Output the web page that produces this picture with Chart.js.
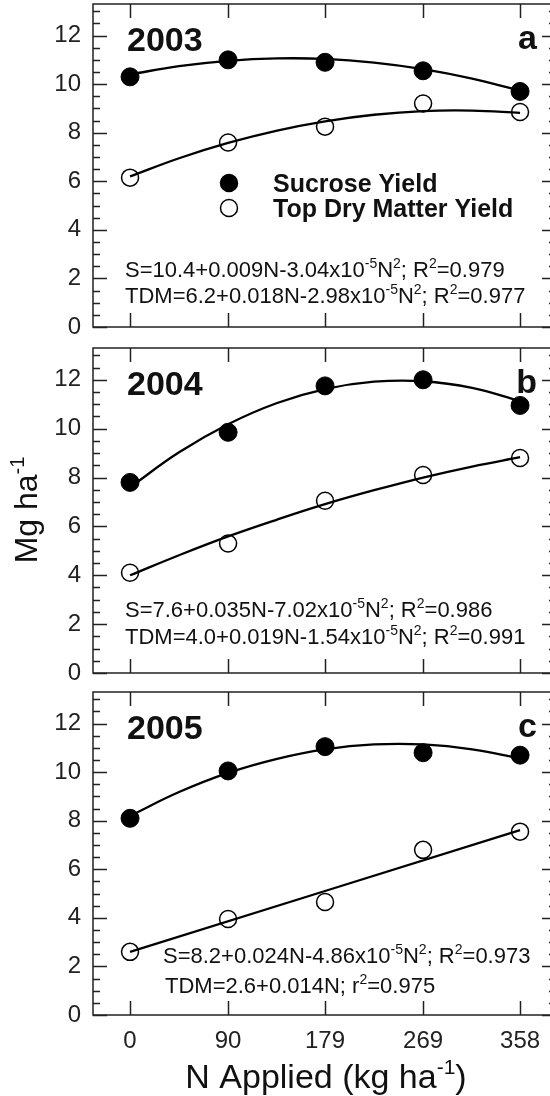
<!DOCTYPE html>
<html>
<head>
<meta charset="utf-8">
<script src="https://cdn.jsdelivr.net/npm/chart.js@4.4.1/dist/chart.umd.min.js"></script>
<style>
  html, body { margin: 0; padding: 0; background: #fff; }
  body { width: 550px; height: 1096px; overflow: hidden; position: relative; }
  .panel { position: absolute; left: 0; width: 560px; }
  .panel canvas { display: block; width: 560px; }
</style>
</head>
<body>
<div class="panel" style="top:0px; height:340px"><canvas id="g2003" width="560" height="340"></canvas></div>
<div class="panel" style="top:340px; height:344px"><canvas id="g2004" width="560" height="344"></canvas></div>
<div class="panel" style="top:684px; height:412px"><canvas id="g2005" width="560" height="412"></canvas></div>
<script>
// datos
const nApplied = [0, 90, 179, 269, 358];
const yTicks = [0, 2, 4, 6, 8, 10, 12];

const sucrose2003 = [10.3, 11.0, 10.9, 10.55, 9.7];
const tdm2003 = [6.15, 7.6, 8.25, 9.2, 8.85];
const sucrose2004 = [7.8, 9.85, 11.75, 12.0, 10.95];
const tdm2004 = [4.1, 5.3, 7.05, 8.1, 8.8];
const sucrose2005 = [8.1, 10.05, 11.05, 10.8, 10.7];
const tdm2005 = [2.6, 3.95, 4.65, 6.8, 7.55];

// curvas ajustadas
const fitN = [0, 45, 90, 135, 179, 224, 269, 314, 358];
const fitS2003 = [10.40, 10.74, 10.96, 11.06, 11.04, 10.89, 10.62, 10.23, 9.73];
const fitT2003 = [6.20, 6.95, 7.58, 8.09, 8.47, 8.74, 8.89, 8.91, 8.82];
const fitS2004 = [7.60, 9.03, 10.18, 11.05, 11.62, 11.92, 11.94, 11.67, 11.13];
const fitT2004 = [4.00, 4.82, 5.59, 6.28, 6.91, 7.48, 8.00, 8.45, 8.83];
const fitS2005 = [8.20, 9.18, 9.97, 10.55, 10.94, 11.14, 11.14, 10.94, 10.56];
const fitN2005T = [0, 358];
const fitT2005 = [2.6, 7.61];

const FONT = '"Liberation Sans", Arial, sans-serif';

function puntos(xs, ys) {
    return xs.map((x, i) => ({ x: x, y: ys[i] }));
}

function richParts(str) {
    const parts = [];
    str.split(/(\{[^}]*\})/).forEach(s => {
        if (!s) return;
        if (s[0] === '{') parts.push([s.slice(1, -1), true]);
        else parts.push([s, false]);
    });
    return parts;
}

function drawRich(ctx, str, x, y, size, weight, align) {
    const parts = richParts(str);
    const supSize = Math.round(size * 0.62);
    const fontOf = sup => `${weight} ${sup ? supSize : size}px ${FONT}`;
    let w = 0;
    parts.forEach(p => { ctx.font = fontOf(p[1]); w += ctx.measureText(p[0]).width; });
    let cx = align === 'center' ? x - w / 2 : (align === 'right' ? x - w : x);
    ctx.textAlign = 'left';
    ctx.textBaseline = 'alphabetic';
    parts.forEach(p => {
        ctx.font = fontOf(p[1]);
        ctx.fillText(p[0], cx, p[1] ? y - size * 0.42 : y);
        cx += ctx.measureText(p[0]).width;
    });
}

function sinPadding(s) {
    s.paddingTop = 0; s.paddingBottom = 0;
    s.paddingLeft = 0; s.paddingRight = 0;
}

// marco, marcas hacia dentro y textos del panel
const decoPlugin = {
    id: 'deco',
    afterDraw(chart, args, o) {
        const ctx = chart.ctx;
        const a = chart.chartArea;
        const xs = chart.scales.x, ys = chart.scales.y;
        ctx.save();
        ctx.strokeStyle = '#222';
        ctx.lineWidth = 1.5;
        ctx.strokeRect(a.left, a.top, a.right - a.left, a.bottom - a.top);
        ctx.beginPath();
        for (let v = 0; v <= ys.max; v += 0.5) {
            const py = Math.round(ys.getPixelForValue(v)) + 0.5;
            const len = v % 2 === 0 ? 14 : 7;
            ctx.moveTo(a.left, py); ctx.lineTo(a.left + len, py);
            ctx.moveTo(a.right, py); ctx.lineTo(a.right - len, py);
        }
        nApplied.forEach(v => {
            const px = Math.round(xs.getPixelForValue(v)) + 0.5;
            ctx.moveTo(px, a.bottom); ctx.lineTo(px, a.bottom - 14);
            ctx.moveTo(px, a.top); ctx.lineTo(px, a.top + 14);
        });
        ctx.stroke();

        ctx.fillStyle = '#111';
        ctx.font = `bold 34px ${FONT}`;
        ctx.textBaseline = 'alphabetic';
        ctx.textAlign = 'left';
        ctx.fillText(o.year, 127, a.top + 47);
        ctx.textAlign = 'right';
        ctx.fillText(o.letter, 537, a.top + 45);

        o.eq.forEach(e => drawRich(ctx, e.text, e.x, a.bottom - e.dy, 22, 'normal', 'left'));

        if (o.legend) {
            o.legend.forEach(l => {
                ctx.beginPath();
                ctx.arc(229, l.y, 8.5, 0, Math.PI * 2);
                ctx.fillStyle = l.fill;
                ctx.fill();
                ctx.lineWidth = 1.5;
                ctx.strokeStyle = '#000';
                ctx.stroke();
                ctx.fillStyle = '#111';
                ctx.font = `bold 25px ${FONT}`;
                ctx.textAlign = 'left';
                ctx.fillText(l.text, 273, l.y + 9);
            });
        }
        if (o.yTitle) {
            ctx.save();
            ctx.translate(37, 170);
            ctx.rotate(-Math.PI / 2);
            ctx.fillStyle = '#111';
            drawRich(ctx, o.yTitle, 0, 0, 32, 'normal', 'center');
            ctx.restore();
        }
        if (o.xTitle) {
            ctx.fillStyle = '#111';
            drawRich(ctx, o.xTitle, 326, 404, 34, 'normal', 'center');
        }
        ctx.restore();
    }
};

function crearPanel(id, cfg) {
    const ctx = document.getElementById(id).getContext('2d');
    return new Chart(ctx, {
        type: 'scatter',
        data: {
            datasets: [
                { type: 'line', data: puntos(fitN, cfg.fitS), borderColor: '#000', borderWidth: 2.3, pointRadius: 0, tension: 0.4, fill: false },
                { type: 'line', data: puntos(cfg.fitTN, cfg.fitT), borderColor: '#000', borderWidth: 2.3, pointRadius: 0, tension: 0.4, fill: false },
                { label: 'Sucrose Yield', data: puntos(nApplied, cfg.sucrose), pointRadius: 9, backgroundColor: '#000', borderColor: '#000', borderWidth: 1 },
                { label: 'Top Dry Matter Yield', data: puntos(nApplied, cfg.tdm), pointRadius: 8.5, backgroundColor: '#fff', borderColor: '#000', borderWidth: 1.5 }
            ]
        },
        options: {
            responsive: false,
            animation: false,
            devicePixelRatio: 1,
            layout: { autoPadding: false, padding: { top: cfg.top, right: 4, left: 0, bottom: 0 } },
            plugins: {
                legend: { display: false },
                tooltip: { enabled: false },
                deco: cfg.deco
            },
            scales: {
                x: {
                    type: 'linear', min: -34, max: 391,
                    afterBuildTicks: s => { s.ticks = nApplied.map(v => ({ value: v })); },
                    afterFit: s => { s.height = cfg.xHeight; sinPadding(s); },
                    grid: { display: false, drawTicks: false, tickLength: 0 },
                    border: { display: false },
                    ticks: { display: cfg.showX, color: '#222', padding: 12, font: { size: 24, family: FONT } }
                },
                y: {
                    min: 0, max: 13.3,
                    afterBuildTicks: s => { s.ticks = yTicks.map(v => ({ value: v })); },
                    afterFit: s => { s.width = 93; sinPadding(s); },
                    grid: { display: false, drawTicks: false, tickLength: 0 },
                    border: { display: false },
                    ticks: { color: '#222', padding: 12, font: { size: 24, family: FONT } }
                }
            }
        },
        plugins: [decoPlugin]
    });
}

crearPanel('g2003', {
    sucrose: sucrose2003, tdm: tdm2003, fitS: fitS2003, fitTN: fitN, fitT: fitT2003,
    top: 4, xHeight: 13, showX: false,
    deco: {
        year: '2003', letter: 'a',
        eq: [
            { text: 'S=10.4+0.009N-3.04x10{-5}N{2}; R{2}=0.979', x: 125, dy: 50 },
            { text: 'TDM=6.2+0.018N-2.98x10{-5}N{2}; R{2}=0.977', x: 125, dy: 24 }
        ],
        legend: [
            { text: 'Sucrose Yield', y: 183, fill: '#000' },
            { text: 'Top Dry Matter Yield', y: 208, fill: '#fff' }
        ]
    }
});

crearPanel('g2004', {
    sucrose: sucrose2004, tdm: tdm2004, fitS: fitS2004, fitTN: fitN, fitT: fitT2004,
    top: 8, xHeight: 11, showX: false,
    deco: {
        year: '2004', letter: 'b',
        eq: [
            { text: 'S=7.6+0.035N-7.02x10{-5}N{2}; R{2}=0.986', x: 125, dy: 56 },
            { text: 'TDM=4.0+0.019N-1.54x10{-5}N{2}; R{2}=0.991', x: 125, dy: 29 }
        ],
        yTitle: 'Mg ha{-1}'
    }
});

crearPanel('g2005', {
    sucrose: sucrose2005, tdm: tdm2005, fitS: fitS2005, fitTN: fitN2005T, fitT: fitT2005,
    top: 8, xHeight: 81, showX: true,
    deco: {
        year: '2005', letter: 'c',
        eq: [
            { text: 'S=8.2+0.024N-4.86x10{-5}N{2}; R{2}=0.973', x: 163, dy: 52 },
            { text: 'TDM=2.6+0.014N; r{2}=0.975', x: 165, dy: 22 }
        ],
        xTitle: 'N Applied (kg ha{-1})'
    }
});
</script>
</body>
</html>
